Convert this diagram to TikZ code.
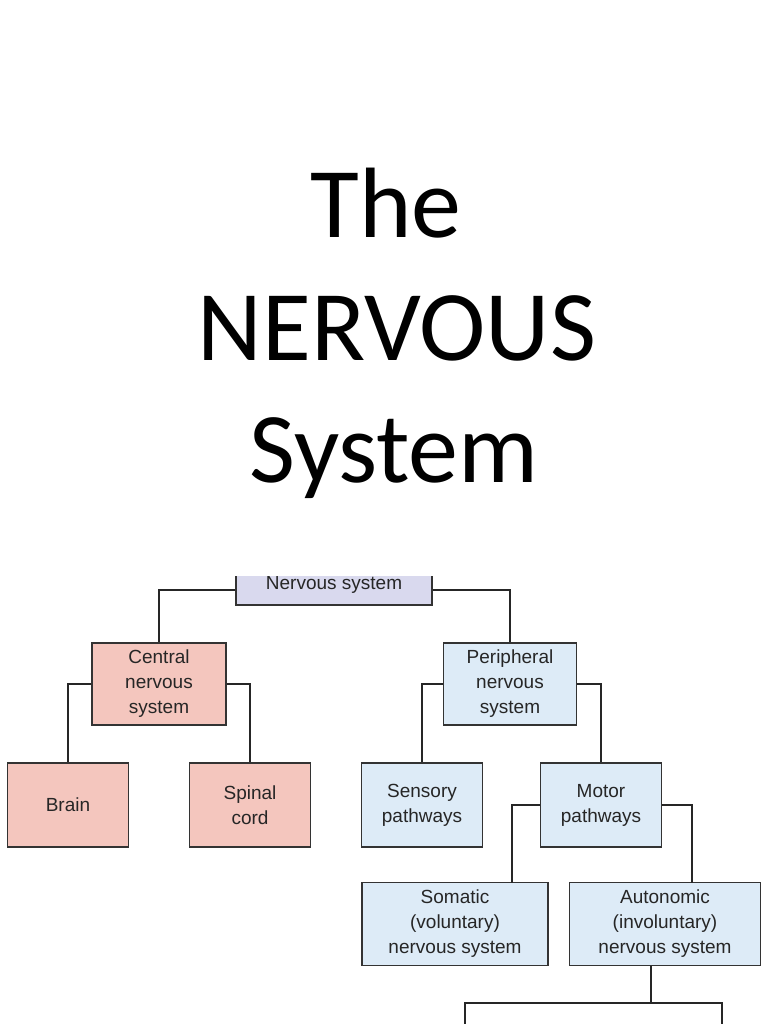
\documentclass[tikz,border=0pt]{standalone}
\usepackage{fontspec}
\setmainfont{Liberation Sans}
\newfontfamily\titlefont{Carlito}
\definecolor{pinkf}{HTML}{F4C6BE}
\definecolor{bluef}{HTML}{DDEBF7}
\definecolor{lavf}{HTML}{D9D9EE}
\begin{document}
\begin{tikzpicture}[x=1pt,y=-1pt,
  bx/.style={draw=black!80,line width=1.6pt,align=center,font=\fontsize{19}{25}\selectfont,text=black!85,inner sep=0pt},
  ln/.style={draw=black!85,line width=1.6pt}]
\useasboundingbox (0,0) rectangle (768,1024);
\fill[white] (0,0) rectangle (768,1024);
\tikzset{tt/.style={font=\titlefont\fontsize{100}{122}\selectfont,anchor=base}}
\node[tt] (t1) at (386,237) {The};
\node[tt] (t2) at (397,360) {NERVOUS};
\node[tt] (t3) at (394,482) {System};
\begin{scope}
\clip (0,576) rectangle (768,1024);
\node[bx,fill=lavf,minimum width=196,minimum height=40] (ns) at (334,585) {\raisebox{-3pt}{Nervous system}};
\end{scope}
\node[bx,fill=pinkf,minimum width=134,minimum height=82] (cns) at (159,684) {Central\\nervous\\system};
\node[bx,fill=bluef,minimum width=133,minimum height=82] (pns) at (510,684) {Peripheral\\nervous\\system};
\node[bx,fill=pinkf,minimum width=121,minimum height=84] (brain) at (68,805) {Brain};
\node[bx,fill=pinkf,minimum width=121,minimum height=84] (spinal) at (250,805) {Spinal\\cord};
\node[bx,fill=bluef,minimum width=121,minimum height=84] (sens) at (422,805) {Sensory\\pathways};
\node[bx,fill=bluef,minimum width=121,minimum height=84] (motor) at (601,805) {Motor\\pathways};
\node[bx,fill=bluef,minimum width=186,minimum height=83] (som) at (455,924) {Somatic\\(voluntary)\\nervous system};
\node[bx,fill=bluef,minimum width=191,minimum height=83] (aut) at (665,924) {Autonomic\\(involuntary)\\nervous system};
\coordinate (b1) at (465,1026);
\coordinate (b2) at (722,1026);
\coordinate (j) at (651,1003);
\draw[ln] (ns.west|-0,590) -| (cns.north);
\draw[ln] (ns.east|-0,590) -| (pns.north);
\draw[ln] (cns.west) -| (brain.north);
\draw[ln] (cns.east) -| (spinal.north);
\draw[ln] (pns.west) -| (sens.north);
\draw[ln] (pns.east) -| (motor.north);
\draw[ln] (motor.west) -| (512,882.5);
\draw[ln] (motor.east) -| (692,882.5);
\draw[ln] (aut.south-|j) -- (j);
\draw[ln] (b1) |- (j) -| (b2);
\end{tikzpicture}
\end{document}
